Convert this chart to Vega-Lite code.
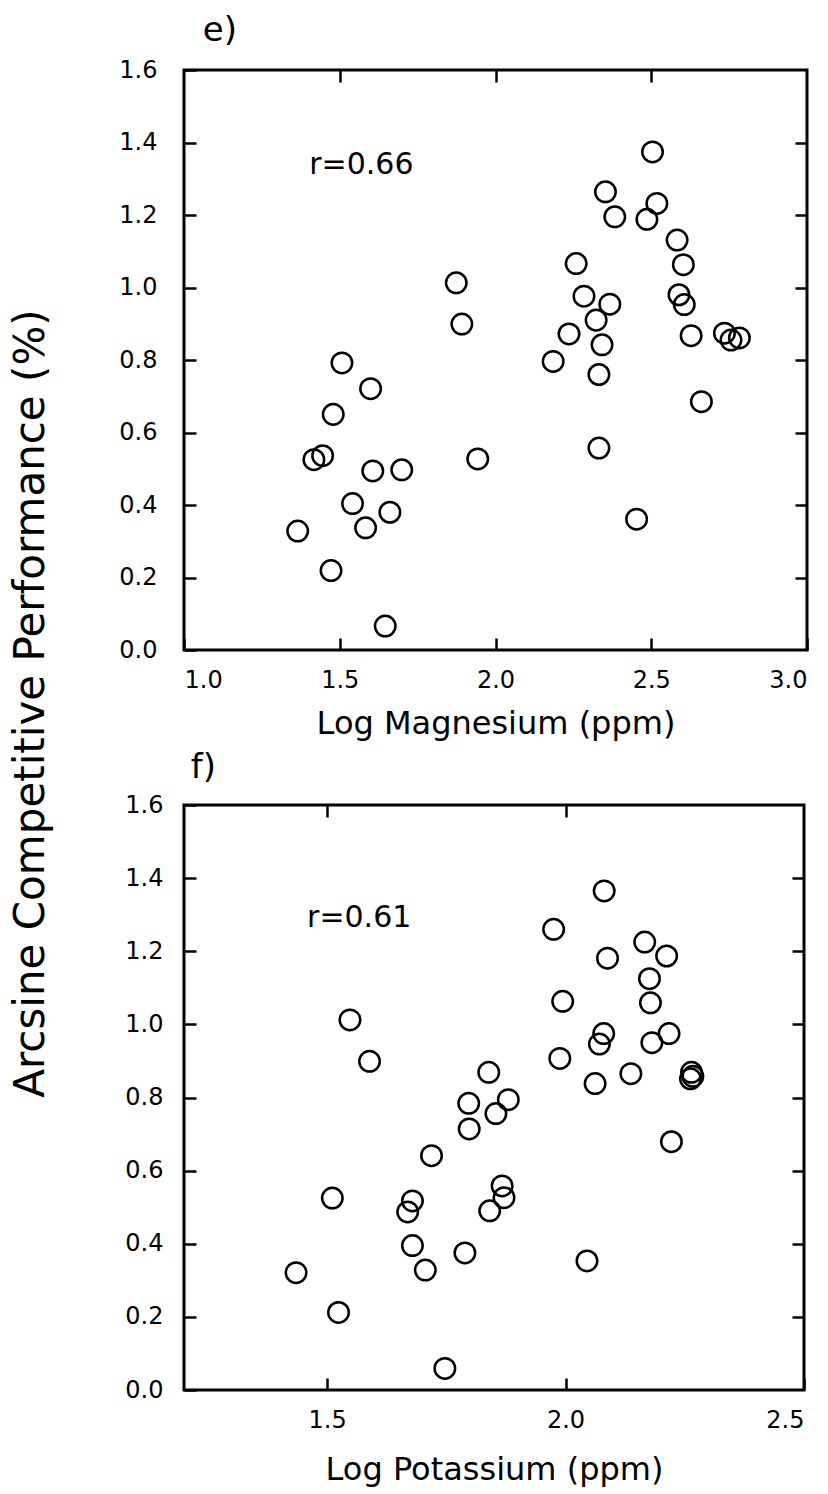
{
  "$schema": "https://vega.github.io/schema/vega-lite/v6.json",
  "background": "white",
  "padding": {"left": 10, "top": 12, "right": 5, "bottom": 5},
  "config": {
    "font": "DejaVu Sans",
    "view": {"stroke": "black", "strokeWidth": 3},
    "axis": {
      "domain": false,
      "grid": false,
      "ticks": true,
      "tickColor": "black",
      "tickWidth": 2.5,
      "tickSize": -12,
      "labelFont": "DejaVu Sans",
      "labelFontSize": 24,
      "labelColor": "black",
      "labelPadding": 30,
      "titleFont": "DejaVu Sans",
      "titleFontSize": 32,
      "titleFontWeight": "normal",
      "titleColor": "black"
    },
    "title": {"font": "DejaVu Sans", "fontWeight": "normal", "color": "black"}
  },
  "title": {
    "text": "Arcsine Competitive Performance (%)",
    "orient": "left",
    "anchor": "middle",
    "fontSize": 42,
    "offset": 64,
    "dx": 46
  },
  "spacing": 8,
  "vconcat": [
    {
      "width": 623,
      "height": 580,
      "title": {"text": "e)", "anchor": "start", "fontSize": 34, "dx": 84, "offset": 10},
      "data": {"values": [
        {"x": 1.365, "y": 0.328}, {"x": 1.417, "y": 0.525}, {"x": 1.445, "y": 0.536}, {"x": 1.472, "y": 0.219},
        {"x": 1.479, "y": 0.650}, {"x": 1.507, "y": 0.792}, {"x": 1.541, "y": 0.404}, {"x": 1.583, "y": 0.337},
        {"x": 1.599, "y": 0.721}, {"x": 1.606, "y": 0.494}, {"x": 1.646, "y": 0.066}, {"x": 1.661, "y": 0.380},
        {"x": 1.699, "y": 0.497}, {"x": 1.874, "y": 1.013}, {"x": 1.892, "y": 0.899}, {"x": 1.943, "y": 0.527},
        {"x": 2.185, "y": 0.796}, {"x": 2.236, "y": 0.872}, {"x": 2.259, "y": 1.066}, {"x": 2.284, "y": 0.976},
        {"x": 2.323, "y": 0.910}, {"x": 2.332, "y": 0.760}, {"x": 2.332, "y": 0.557}, {"x": 2.342, "y": 0.842},
        {"x": 2.353, "y": 1.264}, {"x": 2.367, "y": 0.954}, {"x": 2.383, "y": 1.195}, {"x": 2.453, "y": 0.361},
        {"x": 2.486, "y": 1.188}, {"x": 2.504, "y": 1.374}, {"x": 2.518, "y": 1.232}, {"x": 2.583, "y": 1.131},
        {"x": 2.589, "y": 0.980}, {"x": 2.603, "y": 1.063}, {"x": 2.606, "y": 0.953}, {"x": 2.628, "y": 0.867},
        {"x": 2.661, "y": 0.685}, {"x": 2.735, "y": 0.874}, {"x": 2.756, "y": 0.855}, {"x": 2.783, "y": 0.861}
      ]},
      "layer": [
        {
          "mark": {"type": "point", "shape": "circle", "filled": false, "stroke": "black", "strokeWidth": 2.5, "size": 420, "opacity": 1},
          "encoding": {
            "x": {"field": "x", "type": "quantitative", "scale": {"domain": [1, 3], "nice": false, "zero": false},
                  "axis": {"orient": "bottom", "values": [1, 1.5, 2, 2.5, 3], "format": ".1f", "title": "Log Magnesium (ppm)", "titlePadding": 16}},
            "y": {"field": "y", "type": "quantitative", "scale": {"domain": [0, 1.6], "nice": false, "zero": false},
                  "axis": {"orient": "left", "values": [0, 0.2, 0.4, 0.6, 0.8, 1.0, 1.2, 1.4, 1.6], "format": ".1f", "title": null, "labelPadding": 39}}
          }
        },
        {
          "mark": {"type": "point", "opacity": 0},
          "encoding": {
            "x": {"field": "x", "type": "quantitative", "axis": {"orient": "top", "values": [1.5, 2, 2.5], "labels": false, "title": null}},
            "y": {"field": "y", "type": "quantitative", "axis": {"orient": "right", "values": [0.2, 0.4, 0.6, 0.8, 1.0, 1.2, 1.4], "labels": false, "title": null}}
          }
        },
        {
          "data": {"values": [{"x": 1.402, "y": 1.313, "label": "r=0.66"}]},
          "mark": {"type": "text", "align": "left", "baseline": "alphabetic", "fontSize": 30, "font": "DejaVu Sans", "color": "black"},
          "encoding": {
            "x": {"field": "x", "type": "quantitative", "axis": null},
            "y": {"field": "y", "type": "quantitative", "axis": null},
            "text": {"field": "label"}
          }
        }
      ],
      "resolve": {"axis": {"x": "independent", "y": "independent"}}
    },
    {
      "width": 620,
      "height": 585,
      "title": {"text": "f)", "anchor": "start", "fontSize": 34, "dx": 66, "offset": 8},
      "data": {"values": [
        {"x": 1.435, "y": 0.321}, {"x": 1.511, "y": 0.525}, {"x": 1.524, "y": 0.212}, {"x": 1.548, "y": 1.012},
        {"x": 1.589, "y": 0.899}, {"x": 1.669, "y": 0.487}, {"x": 1.679, "y": 0.517}, {"x": 1.679, "y": 0.395},
        {"x": 1.706, "y": 0.328}, {"x": 1.719, "y": 0.641}, {"x": 1.747, "y": 0.059}, {"x": 1.789, "y": 0.375},
        {"x": 1.797, "y": 0.784}, {"x": 1.798, "y": 0.714}, {"x": 1.839, "y": 0.869}, {"x": 1.841, "y": 0.490},
        {"x": 1.854, "y": 0.756}, {"x": 1.867, "y": 0.558}, {"x": 1.871, "y": 0.526}, {"x": 1.880, "y": 0.794},
        {"x": 1.975, "y": 1.260}, {"x": 1.988, "y": 0.907}, {"x": 1.994, "y": 1.063}, {"x": 2.045, "y": 0.353},
        {"x": 2.062, "y": 0.838}, {"x": 2.071, "y": 0.946}, {"x": 2.080, "y": 0.975}, {"x": 2.081, "y": 1.365},
        {"x": 2.088, "y": 1.181}, {"x": 2.137, "y": 0.865}, {"x": 2.166, "y": 1.225}, {"x": 2.176, "y": 1.125},
        {"x": 2.178, "y": 1.059}, {"x": 2.181, "y": 0.950}, {"x": 2.212, "y": 1.187}, {"x": 2.217, "y": 0.975},
        {"x": 2.222, "y": 0.679}, {"x": 2.264, "y": 0.869}, {"x": 2.267, "y": 0.858}, {"x": 2.262, "y": 0.851}
      ]},
      "layer": [
        {
          "mark": {"type": "point", "shape": "circle", "filled": false, "stroke": "black", "strokeWidth": 2.5, "size": 420, "opacity": 1},
          "encoding": {
            "x": {"field": "x", "type": "quantitative", "scale": {"domain": [1.2, 2.5], "nice": false, "zero": false},
                  "axis": {"orient": "bottom", "values": [1.5, 2, 2.5], "format": ".1f", "title": "Log Potassium (ppm)", "titlePadding": 22}},
            "y": {"field": "y", "type": "quantitative", "scale": {"domain": [0, 1.6], "nice": false, "zero": false},
                  "axis": {"orient": "left", "values": [0, 0.2, 0.4, 0.6, 0.8, 1.0, 1.2, 1.4, 1.6], "format": ".1f", "title": null, "labelPadding": 33}}
          }
        },
        {
          "mark": {"type": "point", "opacity": 0},
          "encoding": {
            "x": {"field": "x", "type": "quantitative", "axis": {"orient": "top", "values": [1.5, 2], "labels": false, "title": null}},
            "y": {"field": "y", "type": "quantitative", "axis": {"orient": "right", "values": [0.2, 0.4, 0.6, 0.8, 1.0, 1.2, 1.4], "labels": false, "title": null}}
          }
        },
        {
          "data": {"values": [{"x": 1.458, "y": 1.266, "label": "r=0.61"}]},
          "mark": {"type": "text", "align": "left", "baseline": "alphabetic", "fontSize": 30, "font": "DejaVu Sans", "color": "black"},
          "encoding": {
            "x": {"field": "x", "type": "quantitative", "axis": null},
            "y": {"field": "y", "type": "quantitative", "axis": null},
            "text": {"field": "label"}
          }
        }
      ],
      "resolve": {"axis": {"x": "independent", "y": "independent"}}
    }
  ]
}
